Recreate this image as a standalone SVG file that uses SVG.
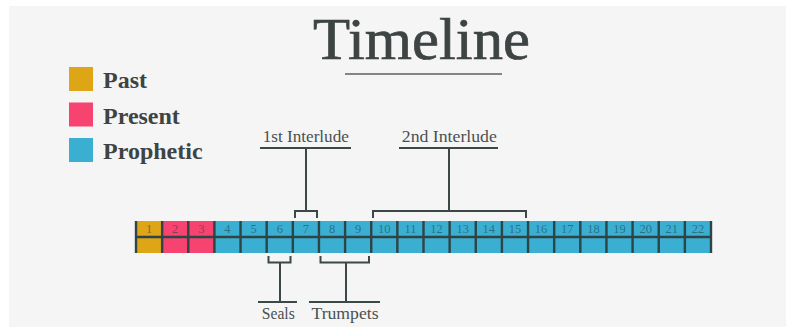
<svg xmlns="http://www.w3.org/2000/svg" width="786" height="327" viewBox="0 0 786 327">
<style>
.ln{stroke:#3c4747;stroke-width:2;fill:none}
.dv{stroke:#2f4446;stroke-width:2.4;fill:none}
.num{font-family:"Liberation Serif",serif;font-size:12.5px;fill:#1f3a44;fill-opacity:0.55;text-anchor:middle}
.lbl{font-family:"Liberation Serif",serif;font-size:16px;fill:#4a5050;text-anchor:middle}
.leg{font-family:"Liberation Serif",serif;font-size:24px;font-weight:bold;fill:#3d4443}
</style>
<rect x="0" y="0" width="786" height="327" fill="#ffffff"/>
<rect x="9" y="6" width="777" height="321" fill="#f5f5f5"/>
<g id="title">
<text x="421.5" y="59" font-family="'Liberation Serif',serif" font-size="60" fill="#3d4443" stroke="#3d4443" stroke-width="0.7" text-anchor="middle" textLength="217" lengthAdjust="spacingAndGlyphs">Timeline</text>
<line x1="345" y1="74" x2="502" y2="74" stroke="#808585" stroke-width="2"/>
</g>
<g id="legend">
<g id="legend-past"><rect x="69" y="67" width="24" height="24" fill="#dea516"/><text class="leg" x="103" y="88">Past</text></g>
<g id="legend-present"><rect x="69" y="102.5" width="24" height="24" fill="#f6436f"/><text class="leg" x="103" y="123.5">Present</text></g>
<g id="legend-prophetic"><rect x="69" y="138" width="24" height="24" fill="#3aafd1"/><text class="leg" x="103" y="159">Prophetic</text></g>
</g>
<g id="timeline-bar">
<rect x="136" y="221" width="26.14" height="32" fill="#dea516"/>
<rect x="162.14" y="221" width="52.27" height="32" fill="#f6436f"/>
<rect x="214.41" y="221" width="496.59" height="32" fill="#3aafd1"/>
<line class="dv" x1="136" y1="237" x2="711" y2="237"/>
<path class="dv" d="M136,221V253M162.14,221V253M188.27,221V253M214.41,221V253M240.55,221V253M266.68,221V253M292.82,221V253M318.95,221V253M345.09,221V253M371.23,221V253M397.36,221V253M423.5,221V253M449.64,221V253M475.77,221V253M501.91,221V253M528.05,221V253M554.18,221V253M580.32,221V253M606.45,221V253M632.59,221V253M658.73,221V253M684.86,221V253M711,221V253"/>
<text class="num" x="149.07" y="233">1</text>
<text class="num" x="175.2" y="233">2</text>
<text class="num" x="201.34" y="233">3</text>
<text class="num" x="227.48" y="233">4</text>
<text class="num" x="253.61" y="233">5</text>
<text class="num" x="279.75" y="233">6</text>
<text class="num" x="305.89" y="233">7</text>
<text class="num" x="332.02" y="233">8</text>
<text class="num" x="358.16" y="233">9</text>
<text class="num" x="384.3" y="233">10</text>
<text class="num" x="410.43" y="233">11</text>
<text class="num" x="436.57" y="233">12</text>
<text class="num" x="462.7" y="233">13</text>
<text class="num" x="488.84" y="233">14</text>
<text class="num" x="514.98" y="233">15</text>
<text class="num" x="541.11" y="233">16</text>
<text class="num" x="567.25" y="233">17</text>
<text class="num" x="593.39" y="233">18</text>
<text class="num" x="619.52" y="233">19</text>
<text class="num" x="645.66" y="233">20</text>
<text class="num" x="671.8" y="233">21</text>
<text class="num" x="697.93" y="233">22</text>
</g>
<g id="connectors">
<path class="ln" d="M295,218V211H317V218M306,211V148M260,148H351"/>
<path class="ln" d="M373,218V211H526V218M449,211V148M399,148H498"/>
<path class="ln" d="M268.5,256V262.5H290.5V256M280,262.5V302M258,302H297"/>
<path class="ln" d="M320.5,256V262.5H369V256M346,262.5V302M309,302H380"/>
</g>
<g id="label-1st-interlude"><text class="lbl" x="305.8" y="142" textLength="86" lengthAdjust="spacingAndGlyphs">1st Interlude</text></g>
<g id="label-2nd-interlude"><text class="lbl" x="449.3" y="142" textLength="95" lengthAdjust="spacingAndGlyphs">2nd Interlude</text></g>
<g id="label-seals"><text class="lbl" x="278.3" y="319" textLength="33" lengthAdjust="spacingAndGlyphs">Seals</text></g>
<g id="label-trumpets"><text class="lbl" x="345" y="319" textLength="67" lengthAdjust="spacingAndGlyphs">Trumpets</text></g>
</svg>
